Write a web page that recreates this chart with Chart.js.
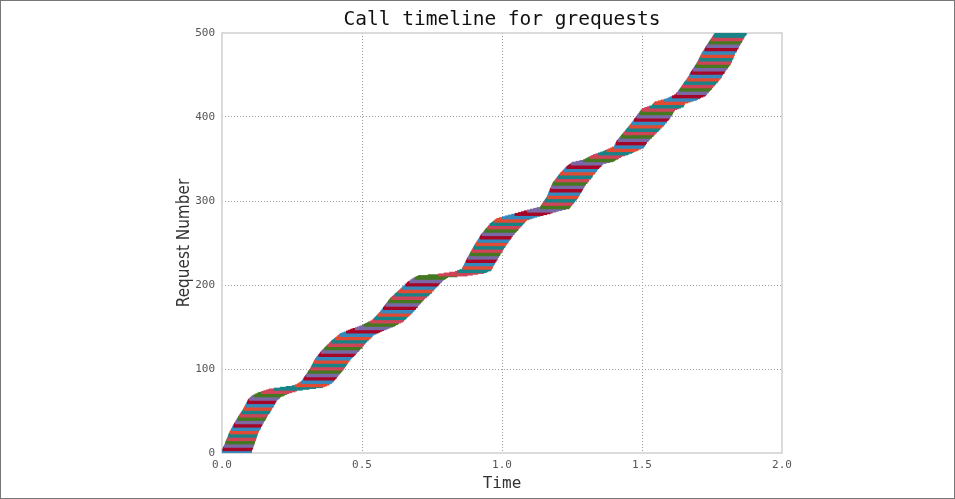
<!DOCTYPE html>
<html><head><meta charset="utf-8">
<script src="https://cdn.jsdelivr.net/npm/chart.js@4.4.1/dist/chart.umd.min.js"></script>
<style>html,body{margin:0;padding:0;background:#fff;}#wrap{width:955px;height:499px;position:relative;}</style>
</head><body><div id="wrap"><canvas id="c" width="955" height="499"></canvas></div>
<script>
const titleText = 'Call timeline for grequests';
const xTitle = 'Time';
const yTitle = 'Request Number';
const xTickValues = [0, 0.5, 1, 1.5, 2];
const xTickLabels = ['0.0', '0.5', '1.0', '1.5', '2.0'];
const yTickValues = [0, 100, 200, 300, 400, 500];
const yTickLabels = ['0', '100', '200', '300', '400', '500'];
const colorCycle = ['#348ABD', '#A60628', '#7A68A6', '#467821', '#CF4457', '#188487', '#E24A33'];

// start time of each request (ms), index = request number
const startMs = [
0,0,1,1,2,3,5,6,7,9, 10,11,12,13,15,16,17,19,20,21,
22,23,24,26,27,28,30,32,33,35, 37,38,40,42,43,45,47,48,50,52,
54,56,57,59,61,63,65,67,69,71, 73,75,76,78,79,81,83,84,86,88,
89,91,92,94,97,100,103,106,112,118, 124,130,140,148,158,167,185,207,228,250,
260,267,272,277,281,285,287,289,291,293, 295,297,299,301,303,305,307,309,311,314,
315,317,318,320,321,323,325,326,328,329, 331,332,334,337,339,342,344,347,349,351,
354,356,359,362,365,368,371,374,377,380, 383,386,389,392,396,400,403,407,411,414,
418,421,428,435,443,450,458,466,475,483, 491,499,505,511,517,523,529,535,538,541,
544,547,550,553,556,558,561,564,566,568, 571,573,575,577,580,582,584,586,589,591,
593,595,598,600,603,606,610,613,616,619, 623,626,629,632,636,639,642,645,648,652,
655,658,661,665,669,673,677,682,688,694, 700,735,772,792,812,832,840,848,856,858,
859,861,862,864,865,867,868,870,871,873, 874,876,877,879,881,882,884,886,887,889,
891,892,894,896,897,899,901,902,904,906, 908,910,912,914,916,918,920,921,923,925,
927,930,932,935,937,940,942,945,947,950, 952,955,957,961,965,969,972,976,980,990,
1000,1010,1021,1033,1045,1057,1068,1078,1089,1100, 1112,1124,1136,1138,1140,1142,1144,1146,1148,1150,
1152,1154,1156,1158,1160,1161,1162,1164,1165,1166, 1167,1169,1170,1171,1172,1174,1175,1176,1177,1179,
1180,1182,1184,1187,1189,1191,1193,1196,1198,1200, 1202,1205,1207,1210,1213,1216,1219,1221,1224,1227,
1230,1234,1238,1242,1246,1250,1263,1277,1290,1296, 1302,1308,1313,1319,1325,1334,1343,1351,1360,1367,
1373,1380,1387,1393,1400,1401,1403,1404,1406,1407, 1409,1410,1413,1415,1418,1420,1423,1425,1428,1430,
1433,1435,1438,1440,1443,1445,1448,1450,1453,1455, 1458,1460,1462,1464,1467,1469,1471,1473,1476,1478,
1480,1482,1484,1487,1489,1491,1493,1496,1498,1500, 1509,1518,1526,1535,1538,1540,1543,1546,1557,1567,
1578,1588,1595,1601,1607,1614,1620,1622,1624,1627, 1629,1631,1633,1636,1638,1640,1642,1644,1646,1648,
1650,1652,1655,1657,1659,1661,1663,1665,1667,1668, 1670,1671,1673,1675,1677,1679,1681,1683,1685,1687,
1689,1691,1693,1695,1697,1698,1700,1701,1703,1704, 1706,1707,1709,1710,1712,1713,1715,1717,1719,1721,
1723,1725,1727,1728,1730,1732,1734,1736,1738,1740, 1742,1744,1746,1748,1750,1752,1754,1756,1758,1760
];

// duration of each request (ms)
const durationMs = [
107,106,105,106,104,105,106,104,105,103,104,105,103,104,102,103,104,102,103,101,
102,103,101,102,100,101,102,100,101,102,100,101,99,100,101,99,100,101,99,100,
101,99,100,101,99,100,98,99,100,101,99,100,101,99,100,101,102,100,101,102,
100,101,102,100,101,102,103,101,100,102,101,103,100,102,104,101,103,105,108,110,
107,108,110,109,111,110,112,111,113,112,114,113,115,114,116,115,117,116,118,117,
119,118,120,119,121,120,122,121,123,122,124,123,125,124,126,125,127,126,128,127,
129,128,130,129,128,127,129,128,126,127,125,126,124,125,123,124,122,123,121,122,
120,119,118,117,116,115,114,113,112,111,110,111,112,110,111,109,110,111,112,110,
111,112,110,111,113,112,114,113,115,114,116,115,117,116,118,117,116,118,117,119,
118,120,119,121,120,119,121,120,122,121,120,122,121,119,120,118,119,117,118,116,
117,115,116,114,115,113,112,111,110,108,107,106,105,104,103,104,105,103,104,105,
104,106,105,104,106,105,107,106,105,107,106,108,107,106,108,107,109,108,107,109,
108,110,109,108,110,109,111,110,109,111,110,112,111,110,112,111,113,112,111,113,
112,114,113,112,114,113,115,114,113,115,114,116,115,114,113,112,111,110,109,108,
107,106,105,104,103,104,105,103,104,102,103,104,105,104,106,105,107,106,108,107,
109,108,110,109,111,110,112,111,113,112,114,113,115,114,116,115,117,116,118,117,
119,118,120,119,121,120,119,121,120,122,121,120,119,121,120,118,119,117,118,116,
117,115,116,114,113,112,110,109,108,107,106,107,105,106,104,105,106,104,105,103,
104,105,103,104,106,105,107,106,108,107,109,108,110,109,111,110,112,111,113,112,
114,113,115,114,116,115,117,116,118,117,119,118,120,119,121,120,119,121,120,122,
121,120,122,121,119,120,118,119,117,118,116,115,114,113,112,111,110,109,108,107,
106,107,105,106,104,105,106,107,108,107,109,108,110,109,111,110,112,111,113,112,
114,113,115,114,116,115,117,116,118,117,116,118,117,119,118,117,119,118,120,119,
118,120,119,121,120,119,121,120,119,118,120,119,118,117,119,118,117,116,118,117,
116,115,117,116,115,114,116,115,114,113,115,114,113,112,114,113,112,111,113,114
];

const bandSize = 4; // consecutive lines that render as one visible colour band
const datasets = startMs.map((s, i) => ({
  data: [{x: s / 1000, y: i}, {x: (s + durationMs[i]) / 1000, y: i}],
  borderColor: colorCycle[Math.floor(i / bandSize) % colorCycle.length],
  borderWidth: 3,
  borderCapStyle: 'butt',
  pointRadius: 0,
  showLine: true,
  fill: false,
  order: startMs.length - i
}));

const monoFont = "'DejaVu Sans Mono', 'Liberation Mono', monospace";
const gridColor = (edges) => (ctx) => (edges.includes(ctx.tick && ctx.tick.value) ? 'rgba(0,0,0,0)' : '#9a9a9a');

const framePlugin = {
  id: 'frame',
  beforeDraw(chart) {
    const c = chart.ctx;
    c.save(); c.fillStyle = '#ffffff'; c.fillRect(0, 0, chart.width, chart.height); c.restore();
  },
  beforeDatasetsDraw(chart) {
    const {ctx: c, chartArea: a} = chart;
    c.save(); c.strokeStyle = '#cfcfcf'; c.lineWidth = 1.5;
    c.strokeRect(a.left, a.top, a.right - a.left, a.bottom - a.top); c.restore();
  },
  afterDraw(chart) {
    const c = chart.ctx;
    c.save(); c.strokeStyle = '#777'; c.lineWidth = 1;
    c.strokeRect(0.5, 0.5, chart.width - 1, chart.height - 1); c.restore();
  }
};

new Chart(document.getElementById('c'), {
  type: 'scatter',
  data: { datasets },
  plugins: [framePlugin],
  options: {
    responsive: false,
    animation: false,
    devicePixelRatio: 1,
    layout: { padding: { left: 49, right: 0, top: 0, bottom: 0 } },
    plugins: {
      legend: { display: false },
      tooltip: { enabled: false },
      title: {
        display: true, text: titleText, color: '#111',
        font: { family: monoFont, size: 19.5, weight: 'normal', lineHeight: 1.2 },
        padding: { top: 8, bottom: 1.6 }
      }
    },
    scales: {
      x: {
        type: 'linear', min: 0, max: 2,
        afterBuildTicks: (s) => { s.ticks = xTickValues.map(v => ({ value: v })); },
        afterFit: (s) => { s.height = 46; },
        ticks: { callback: (v, i) => xTickLabels[i], color: '#555', padding: 6, maxRotation: 0,
                 font: { family: monoFont, size: 11 } },
        grid: { color: gridColor([0, 2]), lineWidth: 1, drawTicks: false },
        border: { display: false, dash: [1, 2] },
        title: { display: true, text: xTitle, color: '#333',
                 font: { family: monoFont, size: 16, lineHeight: 1.2 }, padding: { top: 0, bottom: 6 } }
      },
      y: {
        type: 'linear', min: 0, max: 500,
        afterBuildTicks: (s) => { s.ticks = yTickValues.map(v => ({ value: v })); },
        afterFit: (s) => { s.width = 173; },
        ticks: { callback: (v, i) => yTickLabels[i], color: '#555', padding: 7,
                 font: { family: monoFont, size: 11 } },
        grid: { color: gridColor([0, 500]), lineWidth: 1, drawTicks: false },
        border: { display: false, dash: [1, 2] },
        title: { display: true, text: yTitle, color: '#333',
                 font: { family: "'Liberation Sans Narrow', 'DejaVu Sans Condensed', 'Open Sans', sans-serif", size: 17, lineHeight: 1.2 },
                 padding: { top: 125, bottom: 0 } }
      },
      yRightSpace: {
        type: 'linear', position: 'right', min: 0, max: 1,
        afterFit: (s) => { s.width = 173; },
        ticks: { display: false },
        grid: { display: false, drawOnChartArea: false },
        border: { display: false }
      }
    }
  }
});
</script></body></html>
